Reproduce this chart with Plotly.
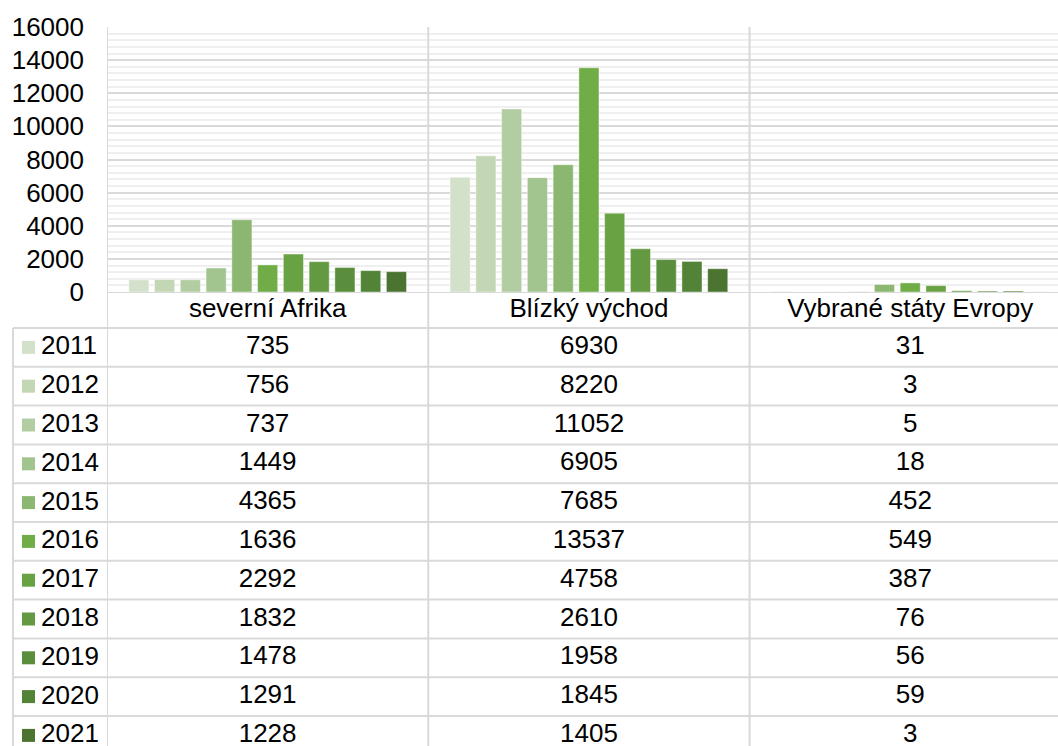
import plotly.graph_objects as go

categories = ["severní Afrika", "Blízký východ", "Vybrané státy Evropy"]
years = ["2011", "2012", "2013", "2014", "2015", "2016", "2017", "2018", "2019", "2020", "2021"]
severni_afrika = [735, 756, 737, 1449, 4365, 1636, 2292, 1832, 1478, 1291, 1228]
blizky_vychod = [6930, 8220, 11052, 6905, 7685, 13537, 4758, 2610, 1958, 1845, 1405]
vybrane_staty_evropy = [31, 3, 5, 18, 452, 549, 387, 76, 56, 59, 3]
year_colors = ["#d3e1ca", "#c3d7b5", "#b3cda2", "#a2c48f", "#8bb770", "#70ad47",
               "#69a243", "#629941", "#5a8e3c", "#538336", "#4a7430"]
y_ticks = [0, 2000, 4000, 6000, 8000, 10000, 12000, 14000, 16000]

W, H = 1058, 746
ML, MT = 107, 27
PW, PH = W - ML, H - MT
ROW_PX = 38.8
TABLE_PX = 454
HEADER = 36 / ROW_PX
GRID = "#d9d9d9"
FONT = "Liberation Sans, Arial, sans-serif"
FS = 26

fig = go.Figure()

for i, year in enumerate(years):
    fig.add_trace(go.Bar(
        x=categories,
        y=[severni_afrika[i], blizky_vychod[i], vybrane_staty_evropy[i]],
        name=year,
        marker=dict(color=year_colors[i], line=dict(color="rgba(255,255,255,0.7)", width=0.6)),
        xaxis="x", yaxis="y",
    ))

# data table under the chart
cell_x, cell_y, cell_t = [], [], []
for i in range(len(years)):
    row = [severni_afrika[i], blizky_vychod[i], vybrane_staty_evropy[i]]
    for j, c in enumerate(categories):
        cell_x.append(c)
        cell_y.append(HEADER + i + 0.5)
        cell_t.append(str(row[j]))

fig.add_trace(go.Scatter(
    x=cell_x, y=cell_y, text=cell_t, mode="text",
    textfont=dict(family=FONT, size=FS, color="#000000"),
    xaxis="x2", yaxis="y2", hoverinfo="skip", cliponaxis=False,
))
fig.add_trace(go.Scatter(
    x=categories, y=[HEADER / 2] * len(categories), text=categories, mode="text",
    textfont=dict(family=FONT, size=FS, color="#000000"),
    xaxis="x2", yaxis="y2", hoverinfo="skip", cliponaxis=False,
))

shapes = []
annotations = []
left_px = 13
x_left = (left_px - ML) / PW

# horizontal lines of the table
shapes.append(dict(type="line", xref="paper", yref="y2", x0=0, x1=1, y0=0, y1=0,
                   line=dict(color=GRID, width=2)))
for k in range(len(years) + 1):
    y = HEADER + k
    shapes.append(dict(type="line", xref="paper", yref="y2", x0=x_left, x1=1, y0=y, y1=y,
                       line=dict(color=GRID, width=2)))
# left border of the legend column
shapes.append(dict(type="line", xref="paper", yref="y2", x0=x_left, x1=x_left,
                   y0=HEADER, y1=TABLE_PX / ROW_PX + 1, line=dict(color=GRID, width=2)))
# category boundaries through chart and table
for b in [-0.5, 0.5, 1.5]:
    shapes.append(dict(type="line", xref="x", yref="paper", x0=b, x1=b, y0=0, y1=1,
                       line=dict(color=GRID, width=2)))

# legend keys + year labels
sq = 13
for i, year in enumerate(years):
    yc = HEADER + i + 0.5
    shapes.append(dict(type="rect", xref="paper", yref="y2",
                       x0=(22 - ML) / PW, x1=(22 + sq - ML) / PW,
                       y0=yc - sq / 2 / ROW_PX, y1=yc + sq / 2 / ROW_PX,
                       fillcolor=year_colors[i], line=dict(width=0)))
    annotations.append(dict(xref="paper", yref="y2", x=(39 - ML) / PW, y=yc, text=year,
                            showarrow=False, xanchor="left", yanchor="middle", yshift=2,
                            font=dict(family=FONT, size=FS, color="#000000")))

fig.update_layout(
    width=W, height=H,
    margin=dict(l=ML, r=0, t=MT, b=0, autoexpand=False),
    paper_bgcolor="white", plot_bgcolor="white",
    showlegend=False,
    barmode="group", bargap=0.118, bargroupgap=0.22,
    font=dict(family=FONT, size=FS, color="#000000"),
    xaxis=dict(type="category", categoryorder="array", categoryarray=categories,
               range=[-0.5, 2.46], showticklabels=False, showgrid=False, zeroline=False,
               anchor="y", fixedrange=True, automargin=False),
    yaxis=dict(domain=[TABLE_PX / PH, 1], range=[0, 16000], tickvals=y_ticks,
               ticktext=[str(v) for v in y_ticks], automargin=False,
               showgrid=True, gridcolor=GRID, gridwidth=2, zeroline=False,
               minor=dict(dtick=400, showgrid=True, gridcolor="#efefef", gridwidth=1.5),
               ticks="", ticklabelstandoff=22, tickfont=dict(family=FONT, size=FS)),
    xaxis2=dict(matches="x", anchor="y2", showticklabels=False, showgrid=False,
                zeroline=False, type="category", automargin=False),
    yaxis2=dict(domain=[0, TABLE_PX / PH], range=[TABLE_PX / ROW_PX, 0], automargin=False,
                showticklabels=False, showgrid=False, zeroline=False),
    shapes=shapes,
    annotations=annotations,
)

fig.write_html(
    "out.html",
    config={"displayModeBar": False},
    post_script="document.body.style.margin='0';",
)
